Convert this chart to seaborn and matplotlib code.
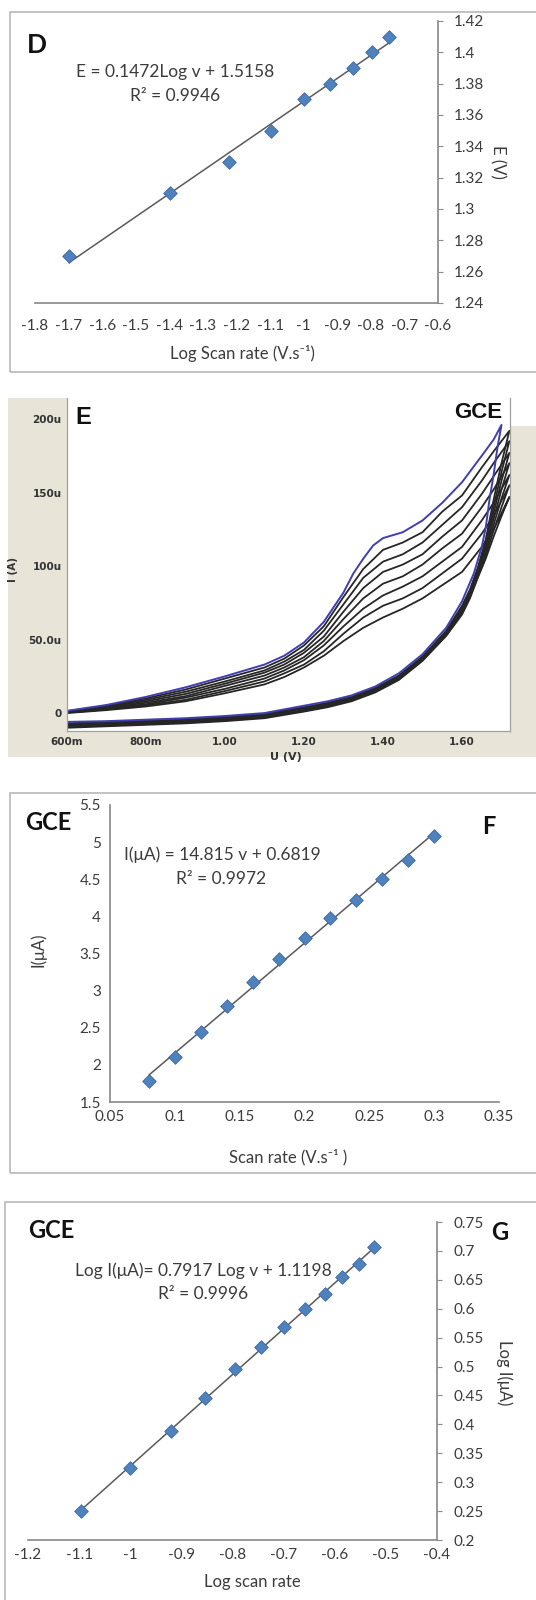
import numpy as np
import pandas as pd
import seaborn as sns
import matplotlib.pyplot as plt
from matplotlib.patches import Rectangle

# ---- panel D : E vs log scan rate
logv_D = [-1.699, -1.398, -1.222, -1.097, -1.0, -0.921, -0.854, -0.796, -0.745]
E_D = [1.27, 1.31, 1.33, 1.35, 1.37, 1.38, 1.39, 1.40, 1.41]

# ---- panel E : cyclic voltammograms (current in uA)
FV_blue = [0.60, 0.70, 0.80, 0.90, 1.00, 1.10, 1.15, 1.20, 1.25, 1.30, 1.325, 1.35, 1.375, 1.40,
           1.45, 1.50, 1.55, 1.60, 1.65, 1.68, 1.70]
blue_fwd = [1.5, 5.5, 11, 17.5, 25, 33, 39, 48, 62, 82, 95, 105, 114, 119,
            123, 131, 143, 157, 175, 186, 196]
RV_blue = [1.70, 1.69, 1.68, 1.67, 1.66, 1.65, 1.63, 1.60, 1.56, 1.50, 1.44, 1.38, 1.32, 1.26,
           1.20, 1.10, 1.00, 0.90, 0.80, 0.70, 0.60]
blue_rev = [196, 181, 162, 146, 126, 113, 95, 76, 58, 40, 27, 18, 12, 8,
            5, 0, -2, -3.5, -4.5, -5.5, -6]

FV_black = [0.60, 0.70, 0.80, 0.90, 1.00, 1.10, 1.15, 1.20, 1.25, 1.30, 1.35, 1.40, 1.45, 1.50,
            1.55, 1.60, 1.65, 1.68, 1.72]
black_fwd = [
    [1.3, 5, 10, 16, 23.5, 31, 37, 46, 59, 79, 98, 111, 116, 123, 137, 148, 167, 178, 192],
    [1.1, 4.5, 9, 14.5, 21.5, 29, 35, 43, 56, 74, 92, 103, 108, 116, 128, 140, 158, 170, 185],
    [0.9, 4, 8, 13, 20, 27.5, 33, 41, 52, 69, 85, 96, 101, 108, 120, 131, 149, 161, 177],
    [0.7, 3.5, 7, 11.5, 18.5, 25.5, 31, 38, 49, 64, 78, 88, 93, 101, 112, 122, 140, 152, 170],
    [0.5, 3, 6, 10.5, 16.5, 23.5, 29, 36, 46, 59, 71, 80, 86, 93, 103, 113, 131, 143, 162],
    [0.25, 2.5, 5.3, 9, 15, 21.5, 27, 33, 42, 54, 65, 73, 78, 85, 95, 105, 122, 134, 155],
    [0.0, 2, 4.5, 8, 13.5, 19.5, 24.5, 31, 39, 49, 58, 65, 71, 78, 87, 96, 113, 125, 147],
]
RV_black = [1.72, 1.70, 1.68, 1.66, 1.64, 1.62, 1.60, 1.56, 1.50, 1.44, 1.38, 1.32, 1.26, 1.20,
            1.10, 1.00, 0.90, 0.80, 0.70, 0.60]
black_rev = [
    [192, 170, 145, 118, 99, 84, 73, 56, 38.5, 25.5, 17, 11, 7, 4, -0.5, -2.5, -4, -5, -6, -7],
    [185, 164, 140, 115, 97, 83, 72, 55, 38, 25, 16.5, 10.5, 6.5, 3.5, -1, -3, -4.5, -5.5, -6.5, -7.5],
    [177, 158, 136, 113, 96, 82, 71, 54.5, 37.5, 24.5, 16, 10, 6, 3, -1.5, -3.5, -5, -6, -7, -8],
    [170, 152, 132, 111, 95, 81, 70, 54, 37, 24, 15.5, 9.5, 5.5, 2.5, -2, -4, -5.5, -6.5, -7.5, -8.5],
    [162, 146, 128, 109, 94, 80, 69, 53.5, 36.5, 23.5, 15, 9, 5, 2, -2.5, -4.5, -6, -7, -8, -9],
    [155, 140, 124, 107, 93, 79, 68, 53, 36, 23, 14.5, 8.5, 4.5, 1.5, -3, -5, -6.5, -7.5, -8.5, -9.5],
    [147, 134, 120, 105, 92, 78, 67, 52.5, 35.5, 22.5, 14, 8, 4, 1, -3.5, -5.5, -7, -8, -9, -10],
]
E_xticks = [0.6, 0.8, 1.0, 1.2, 1.4, 1.6]
E_xlabels = ["600m", "800m", "1.00", "1.20", "1.40", "1.60"]
E_yticks = [0, 50, 100, 150, 200]
E_ylabels = ["0", "50.0u", "100u", "150u", "200u"]

# ---- panel F : I vs scan rate
v_F = [0.08, 0.10, 0.12, 0.14, 0.16, 0.18, 0.20, 0.22, 0.24, 0.26, 0.28, 0.30]
I_F = [1.78, 2.10, 2.44, 2.79, 3.12, 3.42, 3.71, 3.98, 4.22, 4.51, 4.76, 5.08]

# ---- panel G : log I vs log scan rate
logv_G = [-1.097, -1.0, -0.921, -0.854, -0.796, -0.745, -0.699, -0.658, -0.620, -0.585, -0.553, -0.523]
logI_G = [0.25, 0.325, 0.388, 0.446, 0.495, 0.533, 0.568, 0.600, 0.626, 0.655, 0.677, 0.706]

sns.set_theme(style="white")
plt.rcParams['font.family'] = ['Lato', 'DejaVu Sans']
plt.rcParams['axes.unicode_minus'] = False

W, H = 536, 1600
fig = plt.figure(figsize=(W / 100, H / 100), dpi=100)
fig.patch.set_facecolor('white')


def px_axes(x0, y0, x1, y1):
    return fig.add_axes([x0 / W, 1 - y1 / H, (x1 - x0) / W, (y1 - y0) / H])


def ftext(x, y, s, **kw):
    kw.setdefault('ha', 'center')
    kw.setdefault('va', 'center')
    fig.text(x / W, 1 - y / H, s, **kw)


def frame(x0, y0, x1, y1, **kw):
    # background/frame boxes, kept below the axes
    fig.patches.append(Rectangle((x0 / W, 1 - y1 / H), (x1 - x0) / W, (y1 - y0) / H,
                                 transform=fig.transFigure, zorder=-5, **kw))


def fmt(v):
    return f"{round(v, 2):g}"


AX = '#8c8c8c'
TXT = '#3c3c3c'
MK = '#4f81bd'


def excel_axes(ax, xt, yt, yright, xpad=2, ypad=3):
    ax.set_facecolor('none')
    for s in ['top', 'left', 'right', 'bottom']:
        ax.spines[s].set_visible(False)
    ax.spines['bottom'].set_visible(True)
    ax.spines['bottom'].set_color(AX)
    side = 'right' if yright else 'left'
    ax.spines[side].set_visible(True)
    ax.spines[side].set_color(AX)
    if yright:
        ax.yaxis.tick_right()
    ax.set_xticks(xt)
    ax.set_xticklabels([fmt(v) for v in xt])
    ax.set_yticks(yt)
    ax.set_yticklabels([fmt(v) for v in yt])
    ax.tick_params(axis='both', direction='out', length=3.6, width=0.8, color=AX,
                   labelsize=11, labelcolor=TXT)
    ax.tick_params(axis='x', pad=xpad)
    ax.tick_params(axis='y', pad=ypad)
    ax.grid(False)


def scatter_fit(ax, x, y):
    sns.regplot(x=x, y=y, ax=ax, ci=None, marker='D', color=MK,
                scatter_kws=dict(s=48, edgecolor='#3b6aa3', linewidths=0.6, zorder=3, alpha=1),
                line_kws=dict(color='#5a5a5a', lw=1.1, zorder=2))


# ================= D
frame(10, 12, 545, 372, fill=False, edgecolor='#b8b8b8', lw=1.2)
axD = px_axes(35, 21, 438, 303)
scatter_fit(axD, logv_D, E_D)
axD.set_xlim(-1.8, -0.6)
axD.set_ylim(1.24, 1.42)
excel_axes(axD, np.round(np.arange(-1.8, -0.55, 0.1), 2), np.round(np.arange(1.24, 1.425, 0.02), 2),
           True, xpad=8, ypad=8)
ftext(37, 45, "D", fontsize=19, fontweight='bold', color='#111111')
ftext(175, 72, "E = 0.1472Log v + 1.5158", fontsize=12.5, color=TXT)
ftext(175, 96, "R\u00b2 = 0.9946", fontsize=12.5, color=TXT)
ftext(498, 162, "E (V)", fontsize=12, color=TXT, rotation=270)
ftext(242, 353, "Log Scan rate (V.s\u207b\u00b9)", fontsize=12, color=TXT)

# ================= E
frame(8, 398, 545, 757, facecolor='#e8e4d8', edgecolor='none')
frame(510, 396, 545, 426, facecolor='white', edgecolor='none')
axE = px_axes(67, 398, 510, 731)
axE.set_facecolor('white')
for yf, yr in zip(black_fwd, black_rev):
    sns.lineplot(x=FV_black + RV_black, y=yf + yr, ax=axE, sort=False, estimator=None,
                 color='#262626', lw=1.3)
sns.lineplot(x=FV_blue + RV_blue, y=blue_fwd + blue_rev, ax=axE, sort=False, estimator=None,
             color='#3f3fb0', lw=1.4)
axE.set_xlim(0.6, 1.7215)
axE.set_ylim(-12.2, 214.3)
for s in ['left', 'bottom', 'right']:
    axE.spines[s].set_color('#a0a0a0')
    axE.spines[s].set_linewidth(0.9)
axE.spines['top'].set_visible(False)
axE.set_xticks(E_xticks)
axE.set_xticklabels(E_xlabels)
axE.set_yticks(E_yticks)
axE.set_yticklabels(E_ylabels)
axE.tick_params(axis='both', direction='out', length=2, width=0.8, color='#606060', pad=2)
for lab in axE.get_xticklabels() + axE.get_yticklabels():
    lab.set_fontfamily(['DejaVu Sans'])
    lab.set_fontweight('bold')
    lab.set_fontsize(7.5)
    lab.set_color('#333333')
axE.set_xlabel("")
axE.set_ylabel("")
axE.grid(False)
ftext(83, 417, "E", fontsize=17, fontweight='bold', family=['Liberation Sans'], color='#111111')
ftext(478, 412, "GCE", fontsize=16, fontweight='bold', family=['Liberation Sans'], color='#111111')
ftext(13, 569, "I (A)", fontsize=7.5, fontweight='bold', family=['DejaVu Sans'], rotation=90, color='#333333')
ftext(286, 757, "U (V)", fontsize=8, fontweight='bold', family=['DejaVu Sans'], color='#333333')

# ================= F
frame(10, 793, 545, 1173, fill=False, edgecolor='#b8b8b8', lw=1.2)
axF = px_axes(110, 805, 499, 1102)
scatter_fit(axF, v_F, I_F)
axF.set_xlim(0.05, 0.35)
axF.set_ylim(1.5, 5.5)
excel_axes(axF, np.round(np.arange(0.05, 0.351, 0.05), 2), np.round(np.arange(1.5, 5.51, 0.5), 2),
           False, xpad=2, ypad=3)
ftext(48, 822, "GCE", fontsize=17, fontweight='bold', color='#111111')
ftext(489, 827, "F", fontsize=17, fontweight='bold', color='#111111')
ftext(222, 855, "I(\u03bcA) = 14.815 v + 0.6819", fontsize=12.5, color=TXT)
ftext(221, 879, "R\u00b2 = 0.9972", fontsize=12.5, color=TXT)
ftext(38, 950, "I(\u03bcA)", fontsize=12, color=TXT, rotation=90)
ftext(288, 1157, "Scan rate (V.s\u207b\u00b9 )", fontsize=12, color=TXT)

# ================= G
frame(5, 1202, 545, 1610, fill=False, edgecolor='#b8b8b8', lw=1.2)
axG = px_axes(28, 1222, 437, 1540)
scatter_fit(axG, logv_G, logI_G)
axG.set_xlim(-1.2, -0.4)
axG.set_ylim(0.2, 0.75)
excel_axes(axG, np.round(np.arange(-1.2, -0.35, 0.1), 2), np.round(np.arange(0.2, 0.751, 0.05), 2),
           True, xpad=2, ypad=8)
ftext(51, 1230, "GCE", fontsize=17, fontweight='bold', color='#111111')
ftext(500, 1232, "G", fontsize=17, fontweight='bold', color='#111111')
ftext(203, 1271, "Log I(\u03bcA)= 0.7917 Log v + 1.1198", fontsize=12.5, color=TXT)
ftext(203, 1294, "R\u00b2 = 0.9996", fontsize=12.5, color=TXT)
ftext(504, 1373, "Log I(\u03bcA)", fontsize=12, color=TXT, rotation=270)
ftext(252, 1582, "Log scan rate", fontsize=12, color=TXT)

fig.savefig("out.png", dpi=100)
